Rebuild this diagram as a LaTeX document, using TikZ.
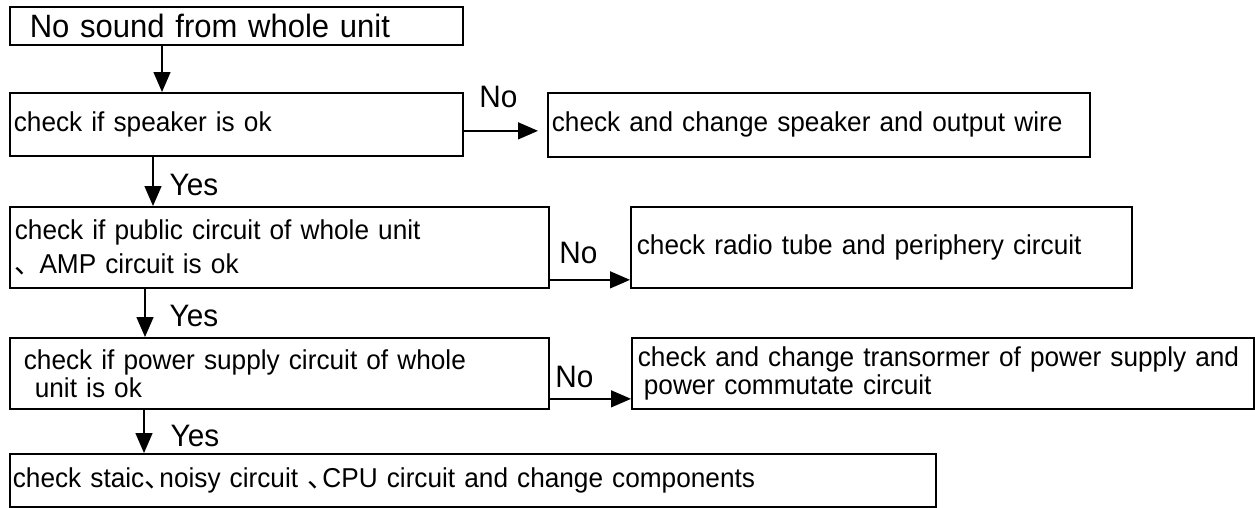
\documentclass[tikz,border=0pt]{standalone}
\usepackage{fontspec}
\setmainfont[FakeStretch=0.96]{Liberation Sans}
\newfontfamily\cjkfont[RawFeature=+palt]{Noto Sans CJK SC}
\usetikzlibrary{arrows.meta}
\newcommand{\dunhao}{\kern0.5pt{\cjkfont 、}\kern1pt}

\begin{document}
\begin{tikzpicture}[x=1pt,y=-1pt,
    box/.style={draw, line width=1.7pt, anchor=north west, align=left, inner ysep=0pt,
        font=\fontsize{27.3}{28}\selectfont},
    arr/.style={line width=1.4pt, -{Triangle[length=20pt,width=17pt]}},
    lbl/.style={inner sep=0pt, font=\fontsize{31}{31}\selectfont}]
    \useasboundingbox (0,0) rectangle (1255,507);
    % boxes
    \node[box, inner xsep=20pt, minimum width=453, minimum height=38, text width=413,
        font=\fontsize{32.3}{32}\selectfont] (start) at (9,6) {No sound from whole unit};
    \node[box, inner xsep=4pt, minimum width=453, minimum height=63, text width=445] (spk) at (9,92)
        {check if speaker is ok};
    \node[box, inner xsep=4pt, minimum width=542, minimum height=64, text width=534] (spkfix) at (547,92)
        {check and change speaker and output wire};
    \node[box, inner xsep=5pt, minimum width=539, minimum height=81, text width=529,
        font=\fontsize{27.3}{33}\selectfont] (amp) at (9,206)
        {check if public circuit of whole unit\\\dunhao\hspace{10pt}AMP circuit is ok};
    \node[box, inner xsep=6pt, minimum width=501, minimum height=81, text width=489] (radio) at (630,206)
        {check radio tube and periphery circuit};
    \node[box, inner xsep=14pt, minimum width=539, minimum height=71, text width=511] (pwr) at (9,337)
        {check if power supply circuit of whole\\\hspace{11pt}unit is ok};
    \node[box, inner xsep=6pt, minimum width=622, minimum height=71, text width=610] (trans) at (631,337)
        {check and change transormer of power supply and\\\hspace{6pt}power commutate circuit};
    \node[box, inner xsep=3pt, minimum width=926, minimum height=53, text width=920] (last) at (9,453)
        {check staic\dunhao noisy circuit \dunhao CPU circuit and change components};
    % arrows
    \draw[arr] ([xshift=153pt]start.south west) -- ([xshift=153pt]spk.north west);
    \draw[arr] ([yshift=-6.5pt]spk.east) -- ([xshift=-9pt,yshift=-6pt]spkfix.west)
        node[lbl, at start, anchor=base west, xshift=15pt, yshift=23pt] {No};
    \draw[arr] ([xshift=144pt]spk.south west) -- ([xshift=144pt]amp.north west)
        node[lbl, pos=0.78, anchor=base west, xshift=16pt] {Yes};
    \draw[arr] ([yshift=-32.5pt]amp.east) -- ([yshift=-32.5pt]radio.west)
        node[lbl, at start, anchor=base west, xshift=9pt, yshift=16pt] {No};
    \draw[arr] ([xshift=136pt]amp.south west) -- ([xshift=136pt]pwr.north west)
        node[lbl, pos=0.78, anchor=base west, xshift=24pt] {Yes};
    \draw[arr] ([yshift=-25.5pt]pwr.east) -- ([yshift=-25.5pt]trans.west)
        node[lbl, at start, anchor=base west, xshift=5pt, yshift=11pt] {No};
    \draw[arr] ([xshift=135pt]pwr.south west) -- ([xshift=135pt]last.north west)
        node[lbl, pos=0.84, anchor=base west, xshift=26pt] {Yes};
\end{tikzpicture}
\end{document}
